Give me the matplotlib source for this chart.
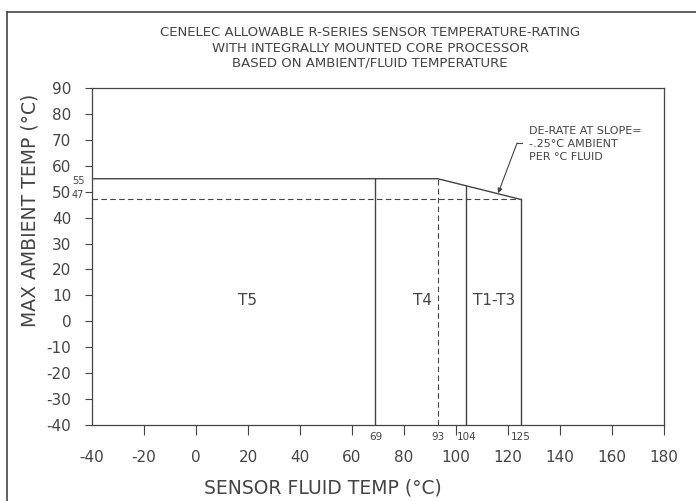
import matplotlib
matplotlib.use("Agg")
import matplotlib.pyplot as plt
from matplotlib.lines import Line2D
import matplotlib.transforms as mtransforms

# --- chart data ---
title_lines = ["CENELEC ALLOWABLE R-SERIES SENSOR TEMPERATURE-RATING",
               "WITH INTEGRALLY MOUNTED CORE PROCESSOR",
               "BASED ON AMBIENT/FLUID TEMPERATURE"]
x_ticks = [-40, -20, 0, 20, 40, 60, 80, 100, 120, 140, 160, 180]
y_ticks = [-40, -30, -20, -10, 0, 10, 20, 30, 40, 50, 60, 70, 80, 90]

# upper limit of ambient temp vs fluid temp
envelope_x = [-40, 93, 125]
envelope_y = [55, 55, 47]

# class boundaries (fluid temp) and where they meet the envelope
boundary_x = [69, 104, 125]
boundary_top = [55, 52.25, 47]
derate_start = 93          # dashed vertical
derate_end_ambient = 47    # dashed horizontal
fluid_marks = [69, 93, 104, 125]
ambient_marks = [55, 47]

zones = ["T5", "T4", "T1-T3"]
zone_x = [20, 87, 114.5]
zone_y = 8

ink = "#444444"
plt.rcParams['font.family'] = ['DejaVu Sans']
plt.rcParams['axes.unicode_minus'] = False

fig = plt.figure(figsize=(6.96, 5.01), dpi=100)
ax = fig.add_axes([92 / 696, 1 - 425 / 501, 572 / 696, 337 / 501])
ax.set_xlim(-40, 180)
ax.set_ylim(-40, 90)

# --- frame / ticks ---
for s in ax.spines.values():
    s.set_color(ink)
    s.set_linewidth(0.9)
ax.set_xticks(x_ticks)
ax.set_yticks(y_ticks)
ax.tick_params(axis='x', direction='out', length=7, width=0.8, color=ink,
               labelsize=11, labelcolor=ink, pad=11)
ax.tick_params(axis='y', direction='out', length=5, width=0.8, color=ink,
               labelsize=11, labelcolor=ink, pad=10)
ax.xaxis.get_major_ticks()[0].tick1line.set_visible(False)

# --- envelope and boundaries ---
lw = 1.0
ax.plot(envelope_x, envelope_y, color=ink, lw=lw)
for bx, by in zip(boundary_x, boundary_top):
    ax.plot([bx, bx], [-40, by], color=ink, lw=lw)
ax.plot([derate_start, derate_start], [-40, envelope_y[1]], color=ink, lw=0.8,
        dashes=(5, 3))
ax.plot([-40, envelope_x[-1]], [derate_end_ambient, derate_end_ambient], color=ink,
        lw=0.8, dashes=(5, 3))

# small value marks below the x axis
trans_x = mtransforms.blended_transform_factory(ax.transData, ax.transAxes)
for fx in fluid_marks:
    ax.annotate(str(fx), xy=(fx, 0), xycoords=trans_x, xytext=(0, -9),
                textcoords='offset points', ha='center', va='center',
                fontsize=7.5, color=ink)

# small value marks left of the y axis
trans_y = mtransforms.blended_transform_factory(ax.transAxes, ax.transData)
ax.annotate(str(ambient_marks[0]), xy=(0, ambient_marks[0]), xycoords=trans_y,
            xytext=(-5.5, -1.5), textcoords='offset points', ha='right', va='center',
            fontsize=7, color=ink)
ax.annotate(str(ambient_marks[1]), xy=(0, ambient_marks[1]), xycoords=trans_y,
            xytext=(-5.5, 3.5), textcoords='offset points', ha='right', va='center',
            fontsize=7, color=ink)

# zone labels
for name, zx in zip(zones, zone_x):
    ax.text(zx, zone_y, name, ha='center', va='center', fontsize=11, color=ink)

# de-rate note with leader
ax.plot([125.5, 123.5], [68.8, 68.8], color=ink, lw=0.8)
ax.annotate("", xy=(116.2, 49.4), xytext=(123.5, 68.8),
            arrowprops=dict(arrowstyle='-|>', color=ink, lw=0.8,
                            mutation_scale=7, shrinkA=0, shrinkB=0))
ax.text(128, 68.5, "DE-RATE AT SLOPE=\n-.25°C AMBIENT\nPER °C FLUID", ha='left',
        va='center', fontsize=8, color=ink, linespacing=1.35)

# axis titles
fig.text(323 / 696, 1 - 488 / 501, "SENSOR FLUID TEMP (°C)", ha='center',
         va='center', fontsize=13.5, color=ink)
fig.text(30 / 696, 1 - 210 / 501, "MAX AMBIENT TEMP (°C)", ha='center',
         va='center', rotation=90, fontsize=13.5, color=ink)

# title block
for i, line in enumerate(title_lines):
    fig.text(370 / 696, 1 - (33 + 15 * i) / 501, line, ha='center', va='center',
             fontsize=9.5, color=ink)

# drawing border
fig.add_artist(Line2D([7 / 696, 1], [1 - 12 / 501, 1 - 12 / 501],
                      transform=fig.transFigure, color=ink, lw=1.2))
fig.add_artist(Line2D([7 / 696, 7 / 696], [0, 1 - 12 / 501],
                      transform=fig.transFigure, color=ink, lw=1.2))

fig.savefig("out.png", dpi=100)
